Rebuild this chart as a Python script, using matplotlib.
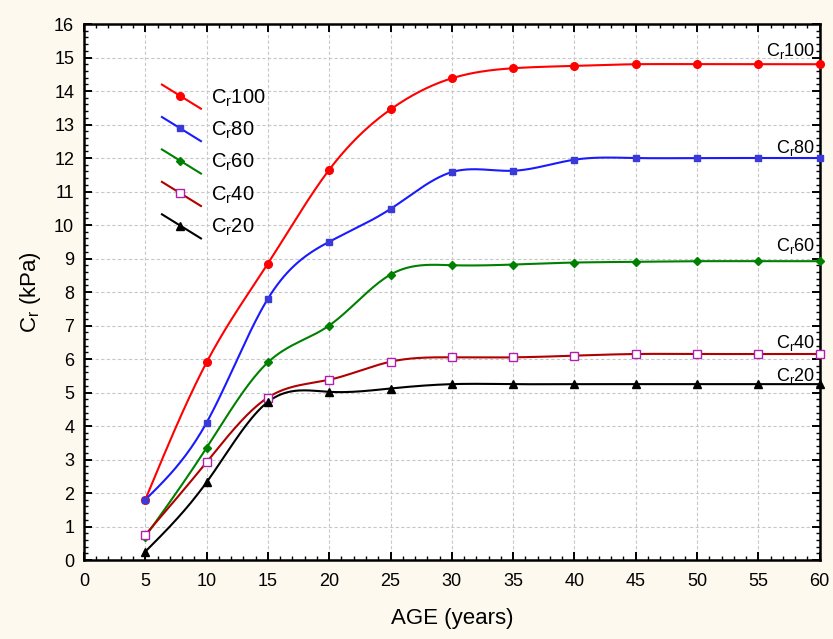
import numpy as np
import matplotlib
matplotlib.use("Agg")
import matplotlib.pyplot as plt
from matplotlib.ticker import MultipleLocator

plt.rcParams['font.family'] = ['Liberation Sans', 'DejaVu Sans']
plt.rcParams['mathtext.fontset'] = 'custom'
plt.rcParams['mathtext.rm'] = 'Liberation Sans'
plt.rcParams['mathtext.it'] = 'Liberation Sans'

age = [5, 10, 15, 20, 25, 30, 35, 40, 45, 50, 55, 60]
cr100 = [1.8, 5.9, 8.85, 11.65, 13.45, 14.38, 14.68, 14.75, 14.8, 14.8, 14.8, 14.8]
cr80 = [1.8, 4.1, 7.8, 9.5, 10.48, 11.58, 11.62, 11.95, 12.0, 12.0, 12.0, 12.0]
cr60 = [0.7, 3.35, 5.9, 7.0, 8.52, 8.8, 8.82, 8.88, 8.9, 8.92, 8.92, 8.92]
cr40 = [0.75, 2.92, 4.85, 5.38, 5.92, 6.05, 6.05, 6.1, 6.15, 6.15, 6.15, 6.15]
cr20 = [0.25, 2.32, 4.72, 5.02, 5.12, 5.25, 5.25, 5.25, 5.25, 5.25, 5.25, 5.25]
names = ['100', '80', '60', '40', '20']


def natural_spline(x, y, n=400):
    x = np.asarray(x, float); y = np.asarray(y, float)
    k = len(x); h = np.diff(x)
    A = np.zeros((k, k)); b = np.zeros(k)
    A[0, 0] = A[-1, -1] = 1
    for i in range(1, k - 1):
        A[i, i - 1] = h[i - 1]; A[i, i] = 2 * (h[i - 1] + h[i]); A[i, i + 1] = h[i]
        b[i] = 6 * ((y[i + 1] - y[i]) / h[i] - (y[i] - y[i - 1]) / h[i - 1])
    M = np.linalg.solve(A, b)
    xs = np.linspace(x[0], x[-1], n)
    idx = np.clip(np.searchsorted(x, xs) - 1, 0, k - 2)
    x0, x1 = x[idx], x[idx + 1]; hh = x1 - x0
    ys = (M[idx] * (x1 - xs) ** 3 / (6 * hh) + M[idx + 1] * (xs - x0) ** 3 / (6 * hh)
          + (y[idx] / hh - M[idx] * hh / 6) * (x1 - xs)
          + (y[idx + 1] / hh - M[idx + 1] * hh / 6) * (xs - x0))
    return xs, ys


fig = plt.figure(figsize=(8.33, 6.39), dpi=100, facecolor='#fdf9ee')
ax = fig.add_axes([0.1008, 0.1236, 0.8832, 0.8388])
ax.set_facecolor('white')

series = [
    (cr100, 'red', 'o', 'red', 'red', 5.5),
    (cr80, '#1a1aff', 's', '#3a3ad8', '#3a3ad8', 5),
    (cr60, 'green', 'D', 'green', 'green', 4.5),
    (cr40, '#b00000', 's', 'white', '#b020b0', 5.5),
    (cr20, 'black', '^', 'black', 'black', 5.5),
]
for vals, lc, mk, mfc, mec, ms in series:
    xs, ys = natural_spline(age, vals)
    ax.plot(xs, ys, color=lc, lw=1.5, zorder=3)
    ax.plot(age, vals, ls='none', marker=mk, mfc=mfc, mec=mec, ms=ms, mew=1.0,
            zorder=4, clip_on=False)

# end labels
label_y = [15.2, 12.3, 9.37, 6.48, 5.5]
for nm, yy in zip(names, label_y):
    ax.text(59.65, yy, r'C$_{\mathrm{r}}$' + nm, fontsize=13, ha='right', va='center')

# legend drawn with diagonal handles
tr = ax.transAxes
for i, ((vals, lc, mk, mfc, mec, ms), nm) in enumerate(zip(series, names)):
    yc = 0.866 - i * 0.0605
    ax.plot([0.106, 0.159], [yc + 0.021, yc - 0.024], color=lc, lw=1.5, transform=tr, zorder=5)
    ax.plot([0.131], [yc], marker=mk, mfc=mfc, mec=mec, ms=ms, mew=1.0, transform=tr, zorder=6)
    ax.text(0.172, yc - 0.004, r'C$_{\mathrm{r}}$' + nm, fontsize=14.5, transform=tr,
            ha='left', va='center')

ax.set_xlim(0, 60)
ax.set_ylim(0, 16)
ax.xaxis.set_major_locator(MultipleLocator(5))
ax.xaxis.set_minor_locator(MultipleLocator(1))
ax.yaxis.set_major_locator(MultipleLocator(1))
ax.yaxis.set_minor_locator(MultipleLocator(0.2))
ax.tick_params(which='both', direction='in', top=True, right=True, labelsize=13)
ax.tick_params(axis='x', pad=9)
ax.tick_params(axis='y', pad=7)
ax.tick_params(which='major', length=6, width=1.4)
ax.tick_params(which='minor', length=3, width=1.0)
for s in ax.spines.values():
    s.set_linewidth(1.8)
ax.grid(True, which='major', ls=(0, (3, 2)), color='#c8c8c8', lw=0.8)
ax.set_axisbelow(True)

ax.set_xlabel('AGE (years)', fontsize=16, labelpad=13)
ax.set_ylabel(r'C$_{\mathrm{r}}$ (kPa)', fontsize=16, labelpad=8)

fig.savefig('out.png', dpi=100, facecolor=fig.get_facecolor())
